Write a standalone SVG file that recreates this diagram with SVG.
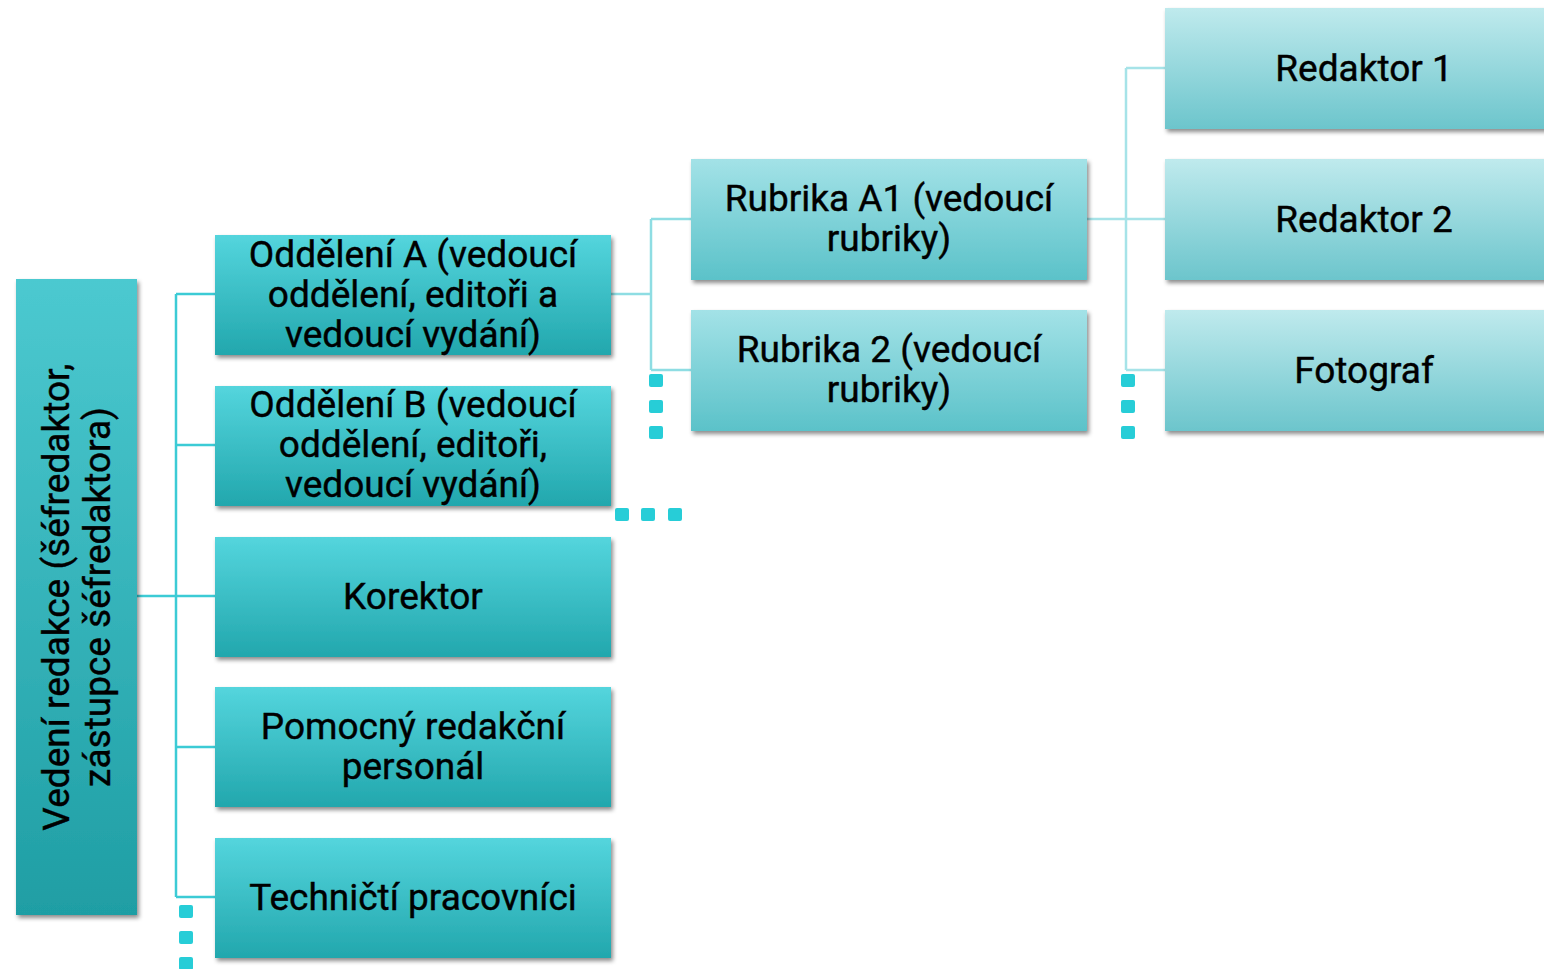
<svg xmlns="http://www.w3.org/2000/svg" width="1544" height="969" viewBox="0 0 1544 969">
<defs>
<linearGradient id="g1" x1="0" y1="0" x2="0" y2="1"><stop offset="0" stop-color="#4cc9d0"/><stop offset="1" stop-color="#1f9ea4"/></linearGradient>
<linearGradient id="g2" x1="0" y1="0" x2="0" y2="1"><stop offset="0" stop-color="#54d5dd"/><stop offset="1" stop-color="#22a7ad"/></linearGradient>
<linearGradient id="g3" x1="0" y1="0" x2="0" y2="1"><stop offset="0" stop-color="#a3e2e7"/><stop offset="1" stop-color="#5bc2c9"/></linearGradient>
<linearGradient id="g4" x1="0" y1="0" x2="0" y2="1"><stop offset="0" stop-color="#bfeaed"/><stop offset="1" stop-color="#6cc5cc"/></linearGradient>
<filter id="sh" x="-5%" y="-5%" width="115%" height="120%"><feDropShadow dx="2" dy="3" stdDeviation="2" flood-color="#000" flood-opacity="0.45"/></filter>
</defs>
<style>
text{font-family:Roboto,"Liberation Sans",sans-serif;font-size:37px;fill:#000;text-anchor:middle;stroke:#000;stroke-width:0.4}
.c1{fill:none;stroke:#3ccbd5;stroke-width:2.5}
.c2{fill:none;stroke:#8edde3;stroke-width:2.5}
.c3{fill:none;stroke:#a6e3e8;stroke-width:2.5}
.dot{fill:#27cdd7}
</style>
<rect width="1544" height="969" fill="#fff"/>
<g id="connectors">
<path class="c1" d="M137 596H176M176 294V897M176 294H215M176 445H215M176 596H215M176 747H215M176 897H215"/>
<path class="c2" d="M611 294H651M651 219V370M651 219H691M651 370H691"/>
<path class="c3" d="M1087 219H1126M1126 68V370M1126 68H1165M1126 219H1165M1126 370H1165"/>
</g>
<g id="dots">
<rect class="dot" x="179" y="905" width="14" height="13" rx="2"/>
<rect class="dot" x="179" y="931" width="14" height="13" rx="2"/>
<rect class="dot" x="179" y="957" width="14" height="13" rx="2"/>
<rect class="dot" x="649" y="374" width="14" height="13" rx="2"/>
<rect class="dot" x="649" y="400" width="14" height="13" rx="2"/>
<rect class="dot" x="649" y="426" width="14" height="13" rx="2"/>
<rect class="dot" x="615" y="508" width="14" height="13" rx="2"/>
<rect class="dot" x="641" y="508" width="14" height="13" rx="2"/>
<rect class="dot" x="668" y="508" width="14" height="13" rx="2"/>
<rect class="dot" x="1121" y="374" width="14" height="13" rx="2"/>
<rect class="dot" x="1121" y="400" width="14" height="13" rx="2"/>
<rect class="dot" x="1121" y="426" width="14" height="13" rx="2"/>
</g>
<g id="root">
<rect x="16" y="279" width="121" height="636" fill="url(#g1)" filter="url(#sh)"/>
<text transform="translate(77 597) rotate(-90)"><tspan x="0" y="-8">Vedení redakce (šéfredaktor,</tspan><tspan x="0" y="33">zástupce šéfredaktora)</tspan></text>
</g>
<g id="odd-a">
<rect x="215" y="235" width="396" height="120" fill="url(#g2)" filter="url(#sh)"/>
<text x="413" y="267">Oddělení A (vedoucí<tspan x="413" y="307">oddělení, editoři a</tspan><tspan x="413" y="347">vedoucí vydání)</tspan></text>
</g>
<g id="odd-b">
<rect x="215" y="386" width="396" height="120" fill="url(#g2)" filter="url(#sh)"/>
<text x="413" y="417">Oddělení B (vedoucí<tspan x="413" y="457">oddělení, editoři,</tspan><tspan x="413" y="497">vedoucí vydání)</tspan></text>
</g>
<g id="korektor">
<rect x="215" y="537" width="396" height="120" fill="url(#g2)" filter="url(#sh)"/>
<text x="413" y="609">Korektor</text>
</g>
<g id="pomocny">
<rect x="215" y="687" width="396" height="120" fill="url(#g2)" filter="url(#sh)"/>
<text x="413" y="739">Pomocný redakční<tspan x="413" y="779">personál</tspan></text>
</g>
<g id="technicti">
<rect x="215" y="838" width="396" height="120" fill="url(#g2)" filter="url(#sh)"/>
<text x="413" y="910">Techničtí pracovníci</text>
</g>
<g id="rubrika-a1">
<rect x="691" y="159" width="396" height="121" fill="url(#g3)" filter="url(#sh)"/>
<text x="889" y="211">Rubrika A1 (vedoucí<tspan x="889" y="251">rubriky)</tspan></text>
</g>
<g id="rubrika-2">
<rect x="691" y="310" width="396" height="121" fill="url(#g3)" filter="url(#sh)"/>
<text x="889" y="362">Rubrika 2 (vedoucí<tspan x="889" y="402">rubriky)</tspan></text>
</g>
<g id="redaktor-1">
<rect x="1165" y="8" width="385" height="121" fill="url(#g4)" filter="url(#sh)"/>
<text x="1364" y="81">Redaktor 1</text>
</g>
<g id="redaktor-2">
<rect x="1165" y="159" width="385" height="121" fill="url(#g4)" filter="url(#sh)"/>
<text x="1364" y="232">Redaktor 2</text>
</g>
<g id="fotograf">
<rect x="1165" y="310" width="385" height="121" fill="url(#g4)" filter="url(#sh)"/>
<text x="1364" y="383">Fotograf</text>
</g>
</svg>
